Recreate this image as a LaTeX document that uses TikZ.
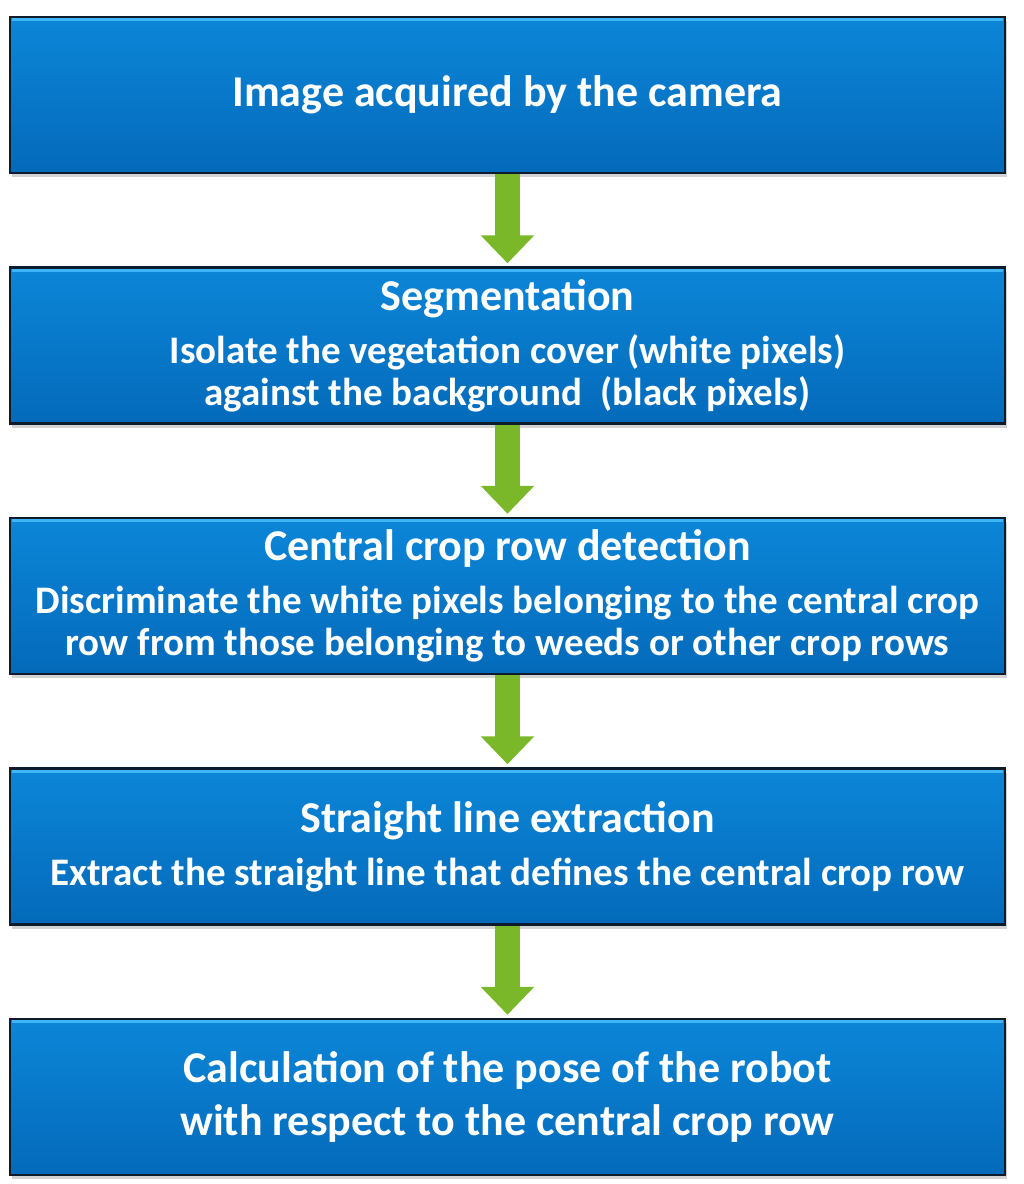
\documentclass[tikz,border=0pt]{standalone}
\usepackage{fontspec}
\setmainfont{Carlito}
\usetikzlibrary{arrows.meta, positioning, shadows}
\definecolor{boxtop}{RGB}{12,134,216}
\definecolor{boxbot}{RGB}{4,106,186}
\definecolor{boxedge}{RGB}{12,28,44}
\definecolor{shine}{RGB}{62,182,246}
\definecolor{leaf}{RGB}{122,184,42}
\newcommand{\headsize}{\fontsize{44}{53}\selectfont}
\newcommand{\subsize}{\fontsize{39}{42}\selectfont}
\tikzset{
  stepbox/.style={draw=boxedge, line width=2.5pt, top color=boxtop, bottom color=boxbot,
    minimum width=995pt, minimum height=156pt, text=white, font=\bfseries\headsize,
    align=center, inner sep=4pt,
    drop shadow={shadow xshift=2pt, shadow yshift=-4pt, opacity=0.35}},
  flow/.style={leaf, line width=25pt, -{Triangle[width=52pt,length=28pt]}, shorten >=3pt},
}

\begin{document}
\begin{tikzpicture}[x=1pt, y=1pt]
  \useasboundingbox (0,0) rectangle (1024,-1184);
  % Steps
  \node[stepbox] (acq) at (507.5,-95) {Image acquired by the camera};
  \node[stepbox, below=92pt of acq] (seg) {Segmentation\\
    \subsize Isolate the vegetation cover (white pixels)\\[-11pt]
    \subsize against the background\ \ (black pixels)};
  \node[stepbox, below=92pt of seg] (crd) {Central crop row detection\\
    \subsize Discriminate the white pixels belonging to the central crop\\[-11pt]
    \subsize row from those belonging to weeds or other crop rows};
  \node[stepbox, below=92pt of crd] (sle) {Straight line extraction\\
    \subsize Extract the straight line that defines the central crop row};
  \node[stepbox, below=92pt of sle] (pose) {Calculation of the pose of the robot\\
    with respect to the central crop row};
  % Shine along the top edges
  \foreach \b in {acq,seg,crd,sle,pose}
    \draw[shine, line width=3pt] ([xshift=3pt,yshift=-4pt]\b.north west) -- ([xshift=-3pt,yshift=-4pt]\b.north east);
  % Arrows
  \draw[flow] (acq) -- (seg);
  \draw[flow] (seg) -- (crd);
  \draw[flow] (crd) -- (sle);
  \draw[flow] (sle) -- (pose);
\end{tikzpicture}
\end{document}
